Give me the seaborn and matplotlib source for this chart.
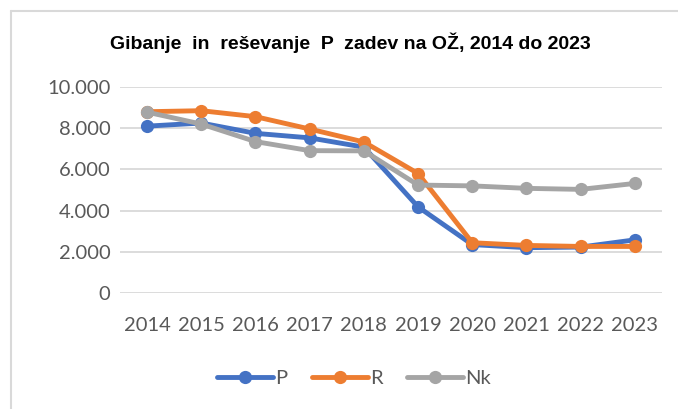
import numpy as np
import pandas as pd
import seaborn as sns
import matplotlib.pyplot as plt
from matplotlib.lines import Line2D
from matplotlib.ticker import FuncFormatter

# values
years = ["2014", "2015", "2016", "2017", "2018", "2019", "2020", "2021", "2022", "2023"]
p_vals = [8100, 8250, 7750, 7530, 7080, 4180, 2350, 2200, 2230, 2580]
r_vals = [8800, 8850, 8560, 7960, 7330, 5800, 2440, 2310, 2260, 2260]
nk_vals = [8780, 8200, 7350, 6910, 6900, 5240, 5200, 5080, 5030, 5320]

series_order = ["P", "R", "Nk"]
palette = {"P": "#4472C4", "R": "#ED7D31", "Nk": "#A5A5A5"}

df = pd.DataFrame({"year": years, "P": p_vals, "R": r_vals, "Nk": nk_vals})
long_df = df.melt(id_vars="year", var_name="series", value_name="value")

sns.set_style("white")
plt.rcParams["font.family"] = ["Lato", "DejaVu Sans"]

fig = plt.figure(figsize=(6.78, 4.09), dpi=100)
ax = fig.add_axes([120 / 678, 1 - 293 / 409, 542 / 678, 206 / 409])

sns.lineplot(
    data=long_df, x="year", y="value", hue="series",
    hue_order=series_order, palette=palette,
    marker="o", markersize=9.5, markeredgewidth=0,
    linewidth=3.5, sort=False, ax=ax, legend=False,
)

ax.set_xlim(-0.5, len(years) - 0.5)
ax.set_ylim(0, 10000)
ax.set_yticks(np.arange(0, 10001, 2000))
ax.yaxis.set_major_formatter(FuncFormatter(lambda v, _: f"{int(v):,}".replace(",", ".")))
ax.grid(axis="y", color="#D9D9D9", linewidth=1.3)
ax.set_axisbelow(True)
for s in ax.spines.values():
    s.set_visible(False)
ax.tick_params(axis="both", length=0, labelsize=14.5, labelcolor="#595959")
ax.tick_params(axis="x", pad=17)
ax.tick_params(axis="y", pad=7)
ax.set_xlabel("")
ax.set_ylabel("")

fig.text(350 / 678, 1 - 43 / 409, "Gibanje  in  reševanje  P  zadev na OŽ, 2014 do 2023",
         ha="center", va="center", fontsize=14, fontweight="bold",
         family=["Liberation Sans", "DejaVu Sans"], color="black")

handles = [Line2D([], [], color=palette[s], lw=3.5, marker="o", markersize=9.5,
                  markeredgewidth=0) for s in series_order]
fig.legend(handles, series_order, loc="center", bbox_to_anchor=(354 / 678, 1 - 378 / 409),
           ncol=3, frameon=False, fontsize=14.5, labelcolor="#595959",
           handlelength=2.8, handletextpad=0.1, columnspacing=1.2)

# chart frame (cropped at right and bottom)
fig.add_artist(Line2D([11 / 678, 1], [1 - 11 / 409] * 2, color="#D9D9D9", lw=1.5))
fig.add_artist(Line2D([11 / 678] * 2, [0, 1 - 11 / 409], color="#D9D9D9", lw=1.5))

fig.savefig("out.png", dpi=100)
